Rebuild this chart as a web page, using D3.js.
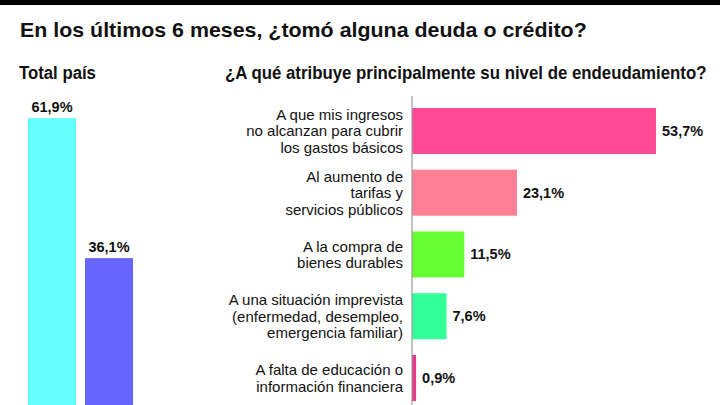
<!DOCTYPE html>
<html>
<head>
<meta charset="utf-8">
<script src="https://cdn.jsdelivr.net/npm/d3@7"></script>
<style>
  html, body { margin: 0; padding: 0; background: #ffffff; }
  svg { display: block; }
  text { font-family: "Liberation Sans", Arial, sans-serif; fill: #111; }
</style>
</head>
<body>
<svg id="chart" width="720" height="405"></svg>
<script>
// ---- Data ----
const title = "En los últimos 6 meses, ¿tomó alguna deuda o crédito?";
const leftTitle = "Total país";
const rightTitle = "¿A qué atribuye principalmente su nivel de endeudamiento?";

const leftCategories = ["Sí", "No"];
const leftValues = [61.9, 36.1];
const leftColors = ["#66FFFF", "#6666FF"];

const rightCategories = [
  ["A que mis ingresos", "no alcanzan para cubrir", "los gastos básicos"],
  ["Al aumento de", "tarifas y", "servicios públicos"],
  ["A la compra de", "bienes durables"],
  ["A una situación imprevista", "(enfermedad, desempleo,", "emergencia familiar)"],
  ["A falta de educación o", "información financiera"]
];
const rightValues = [53.7, 23.1, 11.5, 7.6, 0.9];
const rightColors = ["#FF4B93", "#FF8096", "#66FF33", "#33FF99", "#E8388C"];

const fmt = v => d3.format(".1f")(v).replace(".", ",") + "%";

// ---- Drawing ----
const svg = d3.select("#chart");
const W = 720, H = 405;

svg.append("rect").attr("x", 0).attr("y", 0).attr("width", W).attr("height", H).attr("fill", "#fff");
svg.append("rect").attr("x", 0).attr("y", 0).attr("width", W).attr("height", 5).attr("fill", "#000");

// heading text squeezed horizontally to a target width
function heading(x, y, size, targetW, str) {
  const g = svg.append("g");
  const t = g.append("text").attr("x", 0).attr("y", 0)
    .attr("font-size", size).attr("font-weight", "bold").text(str);
  const w = t.node().getComputedTextLength();
  g.attr("transform", `translate(${x},${y}) scale(${targetW / w},1)`);
}
heading(20, 37, 21, 567, title);
heading(19, 79, 18, 77, leftTitle);
heading(225, 79, 18, 482, rightTitle);

// Left chart
const lx = d3.scaleBand().domain(leftCategories).range([28, 133]).paddingInner(9 / 57).paddingOuter(0);
const ly = d3.scaleLinear().domain([0, 70]).range([454, 454 - 70 * 5.426]);

const lg = svg.append("g");
lg.selectAll("rect.lbar").data(leftValues).join("rect")
  .attr("class", "lbar")
  .attr("x", (d, i) => lx(leftCategories[i]))
  .attr("width", lx.bandwidth())
  .attr("y", d => ly(d))
  .attr("height", d => ly(0) - ly(d))
  .attr("fill", (d, i) => leftColors[i]);

lg.selectAll("text.lval").data(leftValues).join("text")
  .attr("class", "lval")
  .attr("x", (d, i) => lx(leftCategories[i]) + lx.bandwidth() / 2)
  .attr("y", d => ly(d) - 6)
  .attr("text-anchor", "middle")
  .attr("font-size", 14.5).attr("font-weight", "bold")
  .text(d => fmt(d));

// Right chart
const rx = d3.scaleLinear().domain([0, 60]).range([412, 412 + 60 * 4.544]);
const ry = d3.scaleBand().domain(d3.range(rightValues.length)).range([100.1, 408.85])
  .paddingInner(0.255).paddingOuter(0.1275);

const rg = svg.append("g");

rg.selectAll("rect.rbar").data(rightValues).join("rect")
  .attr("class", "rbar")
  .attr("x", rx(0))
  .attr("y", (d, i) => ry(i))
  .attr("width", d => rx(d) - rx(0))
  .attr("height", ry.bandwidth())
  .attr("fill", (d, i) => rightColors[i]);

rg.append("line")
  .attr("x1", rx(0)).attr("x2", rx(0))
  .attr("y1", 96).attr("y2", H)
  .attr("stroke", "#9a9a9a").attr("stroke-width", 1.2);

rg.selectAll("text.rval").data(rightValues).join("text")
  .attr("class", "rval")
  .attr("x", d => rx(d) + 6)
  .attr("y", (d, i) => ry(i) + ry.bandwidth() / 2 + 5)
  .attr("font-size", 14.5).attr("font-weight", "bold")
  .text(d => fmt(d));

const lineH = 16.3;
rightCategories.forEach((lines, i) => {
  const cy = ry(i) + ry.bandwidth() / 2;
  const t = rg.append("text")
    .attr("text-anchor", "end")
    .attr("font-size", 15)
    .attr("fill", "#111");
  lines.forEach((ln, j) => {
    t.append("tspan")
      .attr("x", rx(0) - 9)
      .attr("y", cy + 5.5 + (j - (lines.length - 1) / 2) * lineH)
      .text(ln);
  });
});
</script>
</body>
</html>
